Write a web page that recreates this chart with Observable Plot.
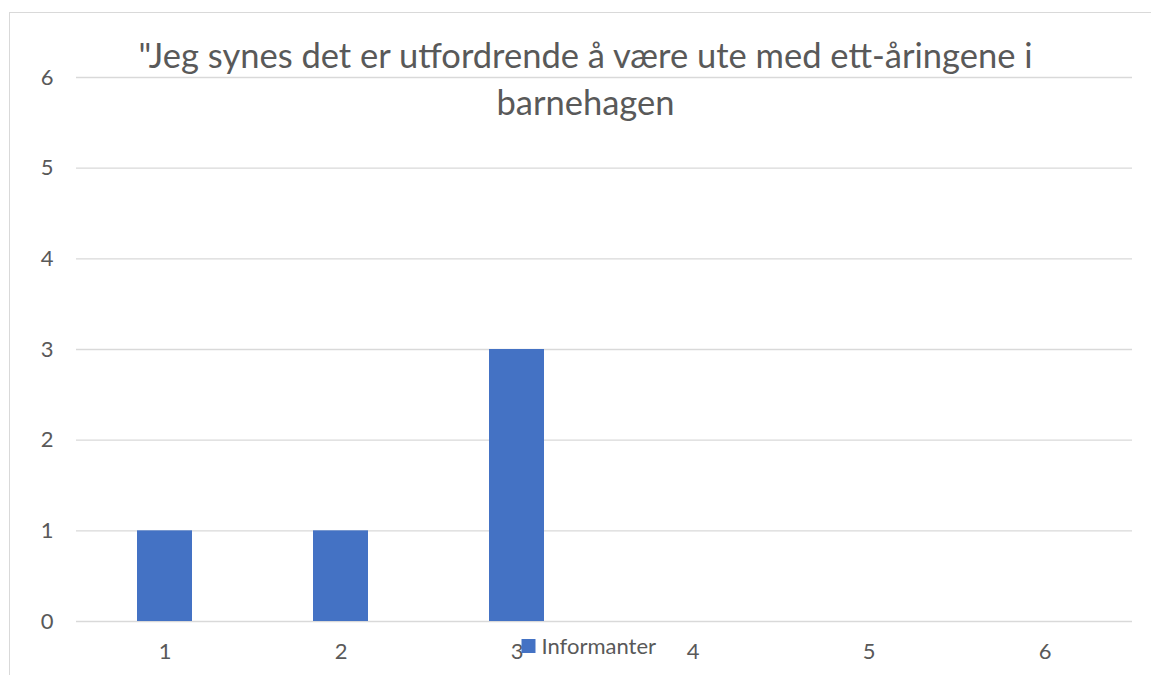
<!DOCTYPE html>
<html>
<head>
<meta charset="utf-8">
<script src="https://cdn.jsdelivr.net/npm/d3@7"></script>
<script src="https://cdn.jsdelivr.net/npm/@observablehq/plot@0.6"></script>
<style>
  html, body { margin: 0; padding: 0; background: #fff; }
  #wrap { position: relative; width: 1151px; height: 675px; overflow: hidden; }
  #border { position: absolute; left: 9px; top: 12px; right: -5px; bottom: -5px;
            border-left: 1px solid #d9d9d9; border-top: 1px solid #d9d9d9; pointer-events: none; }
  #chart { position: absolute; left: 0; top: 0; }
</style>
</head>
<body>
<div id="wrap"><div id="chart"></div><div id="border"></div></div>
<script>
const categories = ["1", "2", "3", "4", "5", "6"];
const values = [1, 1, 3, 0, 0, 0];
const yTicks = [0, 1, 2, 3, 4, 5, 6];
const titleLine1 = "\"Jeg synes det er utfordrende å være ute med ett-åringene i";
const titleLine2 = "barnehagen";
const seriesName = "Informanter";

const data = categories.map((c, i) => ({category: c, value: values[i]}));
const font = "Lato, 'Open Sans', sans-serif";
const textColor = "#595959";
const barColor = "#4472C4";
const titleSize = 34.5;

const plot = Plot.plot({
  width: 1151,
  height: 675,
  marginLeft: 76,
  marginRight: 19,
  marginTop: 77,
  marginBottom: 54,
  style: {fontFamily: font, color: textColor, background: "transparent", overflow: "visible"},
  x: {domain: categories, paddingInner: 0.6875, paddingOuter: 0.34375, label: null},
  y: {domain: [0, 6], ticks: yTicks, label: null},
  marks: [
    Plot.gridY(yTicks, {stroke: "#d9d9d9", strokeOpacity: 1, strokeWidth: 1.3}),
    Plot.barY(data, {x: "category", y: "value", fill: barColor}),
    Plot.axisY(yTicks, {tickSize: 0, tickPadding: 23, fontSize: 22, fill: textColor, label: null, tickFormat: d3.format("d")}),
    Plot.axisX({tickSize: 0, tickPadding: 22, fontSize: 22, fill: textColor, label: null}),
    Plot.text([titleLine1], {
      frameAnchor: "top", lineAnchor: "middle", dx: -19, dy: -21,
      fontSize: titleSize, fill: textColor, text: d => d
    }),
    Plot.text([titleLine2], {
      frameAnchor: "top", lineAnchor: "middle", dx: -19, dy: 26,
      fontSize: titleSize, fill: textColor, text: d => d
    }),
    Plot.dot([seriesName], {frameAnchor: "bottom", dx: -76, dy: 24.5, symbol: "square", r: 7.9, fill: barColor, stroke: null}),
    Plot.text([seriesName], {frameAnchor: "bottom", textAnchor: "start", lineAnchor: "middle", dx: -63, dy: 25, fontSize: 22, fill: textColor, text: d => d})
  ]
});
document.getElementById("chart").appendChild(plot);
</script>
</body>
</html>
